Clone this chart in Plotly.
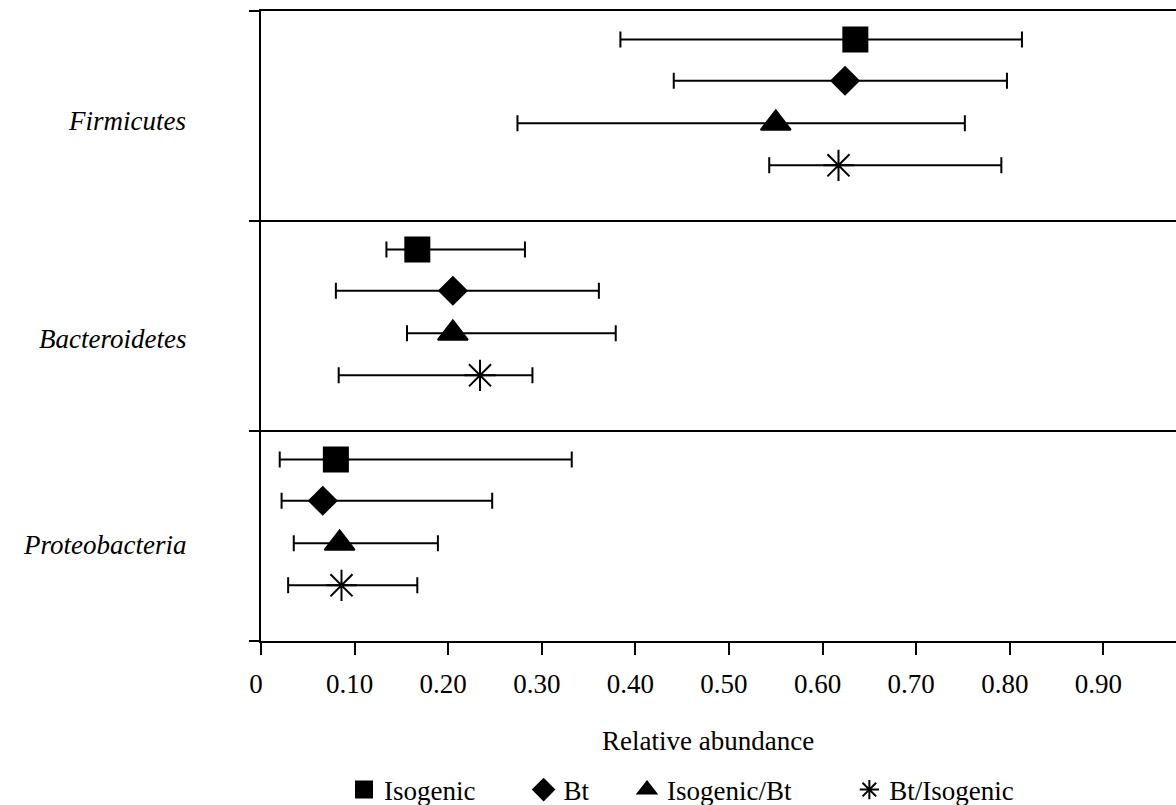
import plotly.graph_objects as go

# ---- data ----
phyla = ["Firmicutes", "Bacteroidetes", "Proteobacteria"]
groups = ["Isogenic", "Bt", "Isogenic/Bt", "Bt/Isogenic"]

# mean relative abundance per group, in phyla order
isogenic_mean = [0.635, 0.167, 0.080]
bt_mean = [0.624, 0.205, 0.066]
isobt_mean = [0.550, 0.205, 0.084]
btiso_mean = [0.617, 0.234, 0.086]

# lower ends of the bars
isogenic_low = [0.384, 0.134, 0.020]
bt_low = [0.441, 0.080, 0.022]
isobt_low = [0.274, 0.156, 0.035]
btiso_low = [0.543, 0.083, 0.029]

# upper ends of the bars
isogenic_high = [0.813, 0.282, 0.332]
bt_high = [0.797, 0.361, 0.247]
isobt_high = [0.752, 0.379, 0.189]
btiso_high = [0.791, 0.290, 0.167]

x_tick_vals = [0, 0.1, 0.2, 0.3, 0.4, 0.5, 0.6, 0.7, 0.8, 0.9]
x_tick_text = ["0", "0.10", "0.20", "0.30", "0.40", "0.50", "0.60", "0.70", "0.80", "0.90"]

# ---- styling / layout helpers ----
means = [isogenic_mean, bt_mean, isobt_mean, btiso_mean]
lows = [isogenic_low, bt_low, isobt_low, btiso_low]
highs = [isogenic_high, bt_high, isobt_high, btiso_high]
symbols = ["square", "diamond", "triangle-up", "asterisk-open"]
sizes = [24, 21, 26, 26]
row_offsets = [0.136, 0.332, 0.535, 0.735]  # position of each group inside a band (from top)
label_shift = [-5, -13, -9]                  # vertical nudge of the phylum labels (px)
legend_x = [0.0907, 0.287, 0.400, 0.643]     # left edge of each legend entry (paper)
legend_ids = ["legend", "legend2", "legend3", "legend4"]
n = len(phyla)

FONT = "Liberation Serif, Times New Roman, serif"
FS = 27

fig = go.Figure()
for g, name in enumerate(groups):
    yv = [n - i - row_offsets[g] for i in range(n)]
    m = means[g]
    fig.add_trace(go.Scatter(
        x=m, y=yv, mode="markers", name=name, legend=legend_ids[g],
        marker=dict(symbol=symbols[g], size=sizes[g], color="black",
                    line=dict(color="black", width=2)),
        error_x=dict(type="data", symmetric=False,
                     array=[h - v for h, v in zip(highs[g], m)],
                     arrayminus=[v - lo for lo, v in zip(lows[g], m)],
                     color="black", thickness=2, width=8),
    ))

annotations = []
for i, p in enumerate(phyla):
    annotations.append(dict(
        text="<i>" + p + "</i>", x=-0.0798, xref="paper", xanchor="right",
        y=n - i - 0.5, yref="y", yanchor="middle", yshift=label_shift[i],
        showarrow=False, font=dict(family=FONT, size=FS, color="black")))
annotations.append(dict(
    text="Relative abundance", x=0.4885, xref="paper", xanchor="center",
    y=-0.159, yref="paper", yanchor="middle", showarrow=False,
    font=dict(family=FONT, size=FS, color="black")))

legends = {}
for g, lid in enumerate(legend_ids):
    legends[lid] = dict(orientation="h", x=legend_x[g], xanchor="left",
                        yref="container", y=0.0186, yanchor="middle", itemwidth=30,
                        font=dict(family=FONT, size=FS, color="black"),
                        bgcolor="rgba(0,0,0,0)")

fig.update_layout(
    width=1176, height=805,
    margin=dict(l=261, r=0, t=11, b=164, autoexpand=False),
    paper_bgcolor="white", plot_bgcolor="white",
    font=dict(family=FONT, size=FS, color="black"),
    showlegend=True,
    annotations=annotations,
    xaxis=dict(range=[0, 0.9776], tickvals=x_tick_vals, ticktext=x_tick_text,
               showline=True, linecolor="black", linewidth=2, mirror=True,
               ticks="outside", ticklen=12, tickwidth=2, tickcolor="black",
               showgrid=False, zeroline=False, ticklabelstandoff=6, ticklabelshift=-5,
               tickfont=dict(family=FONT, size=FS, color="black")),
    yaxis=dict(range=[0, n], tickvals=list(range(n + 1)), showticklabels=False,
               showline=True, linecolor="black", linewidth=2,
               ticks="outside", ticklen=10, tickwidth=2, tickcolor="black",
               showgrid=True, gridcolor="black", gridwidth=2, zeroline=False),
    **legends,
)

fig.write_html("out.html", config={"displayModeBar": False},
               post_script="document.body.style.margin='0px';")
